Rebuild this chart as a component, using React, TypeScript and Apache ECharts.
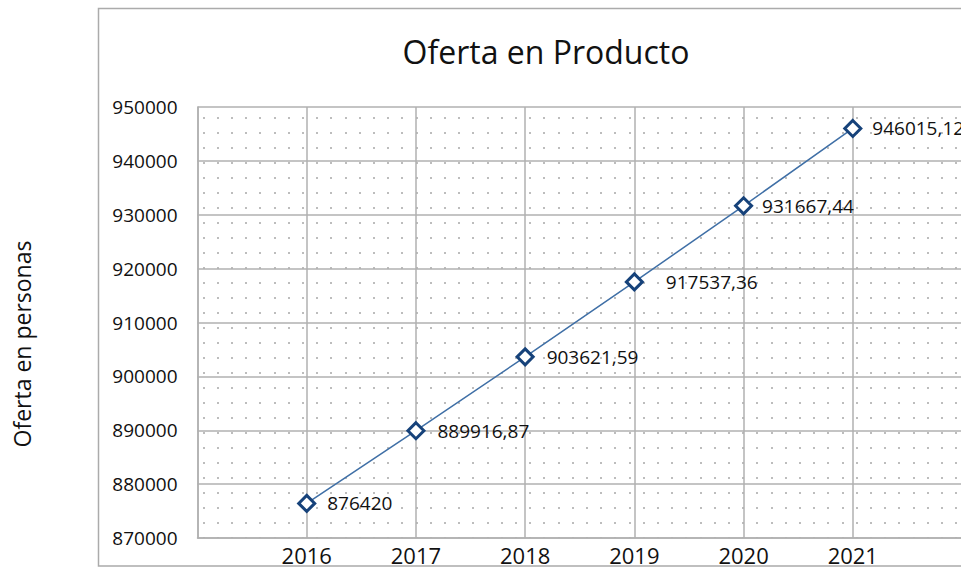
import React, { useEffect, useRef } from "react";
import * as echarts from "echarts";

const years = [2016, 2017, 2018, 2019, 2020, 2021];
const values = [876420, 889916.87, 903621.59, 917537.36, 931667.44, 946015.12];
const yMin = 870000;
const yMax = 950000;
const yStep = 10000;
const titleText = "Oferta en Producto";
const yAxisTitle = "Oferta en personas";

// per-point label gap (style only)
const labelGaps = [11, 12, 12, 22, 9, 10];

const FONT = "'Open Sans', 'DejaVu Sans', sans-serif";

function makeDotPattern() {
  const w = 71;
  const h = 15;
  const c = document.createElement("canvas");
  c.width = w;
  c.height = h;
  const ctx = c.getContext("2d");
  if (ctx) {
    ctx.fillStyle = "#ffffff";
    ctx.fillRect(0, 0, w, h);
    ctx.fillStyle = "#bdbdbd";
    const xs = [4, 18, 32, 46, 61];
    xs.forEach((x) => ctx.fillRect(x, 12, 2, 2));
  }
  return { image: c, repeat: "repeat", imageWidth: w, imageHeight: h } as any;
}

export default function App() {
  const ref = useRef<HTMLDivElement>(null);
  useEffect(() => {
    if (!ref.current) return;
    const chart = echarts.init(ref.current, undefined, { renderer: "svg" });
    const data = years.map((y, i) => ({
      value: [y, values[i]],
      label: { distance: labelGaps[i] },
    }));
    chart.setOption({
      animation: false,
      backgroundColor: "#ffffff",
      title: {
        text: titleText,
        left: 541,
        top: 30,
        textAlign: "center",
        textStyle: { fontFamily: FONT, fontSize: 32, fontWeight: "normal", color: "#111" },
      },
      graphic: [
        {
          type: "rect",
          shape: { x: 98.5, y: 8.5, width: 900, height: 557.5 },
          style: { fill: "none", stroke: "#ababab", lineWidth: 1.5 },
          silent: true,
          z: 100,
        },
        {
          type: "text",
          x: 22,
          y: 344,
          rotation: Math.PI / 2,
          style: {
            text: yAxisTitle,
            fontFamily: FONT,
            fontSize: 23,
            fill: "#111",
            align: "center",
            verticalAlign: "middle",
          },
        },
      ],
      grid: {
        left: 197.5,
        right: -1,
        top: 107,
        bottom: 31,
        show: true,
        borderWidth: 0,
        outerBoundsMode: "none",
        containLabel: false,
        backgroundColor: makeDotPattern(),
      },
      xAxis: {
        type: "value",
        min: 2015,
        max: 2022,
        interval: 1,
        axisLine: { show: true, lineStyle: { color: "#b0b0b0", width: 1.5 } },
        axisTick: { show: false },
        splitLine: { show: true, lineStyle: { color: "#b0b0b0", width: 1.5 } },
        axisLabel: {
          fontFamily: FONT,
          fontSize: 22,
          color: "#111",
          margin: 6,
          formatter: (v: number) => (years.indexOf(v) >= 0 ? String(v) : ""),
        },
      },
      yAxis: {
        type: "value",
        min: yMin,
        max: yMax,
        interval: yStep,
        axisLine: { show: true, lineStyle: { color: "#b0b0b0", width: 1.5 } },
        axisTick: { show: false },
        splitLine: { show: true, lineStyle: { color: "#b0b0b0", width: 1.5 } },
        axisLabel: {
          fontFamily: FONT,
          fontSize: 19,
          color: "#111",
          margin: 20,
          formatter: (v: number) => String(v),
        },
      },
      series: [
        {
          type: "line",
          data,
          symbol: "diamond",
          symbolSize: 16,
          clip: false,
          lineStyle: { color: "#3f6fa6", width: 1.5 },
          itemStyle: { color: "#ffffff", borderColor: "#16427a", borderWidth: 3 },
          label: {
            show: true,
            position: "right",
            distance: 10,
            fontFamily: FONT,
            fontSize: 19,
            color: "#111",
            offset: [0, 2],
            formatter: (p: any) => String(p.value[1]).replace(".", ","),
          },
          labelLayout: { hideOverlap: false, moveOverlap: false },
        },
      ],
    });
    return () => chart.dispose();
  }, []);
  return (
    <div
      ref={ref}
      style={{ position: "absolute", left: 0, top: 0, width: 961, height: 569 }}
    />
  );
}
